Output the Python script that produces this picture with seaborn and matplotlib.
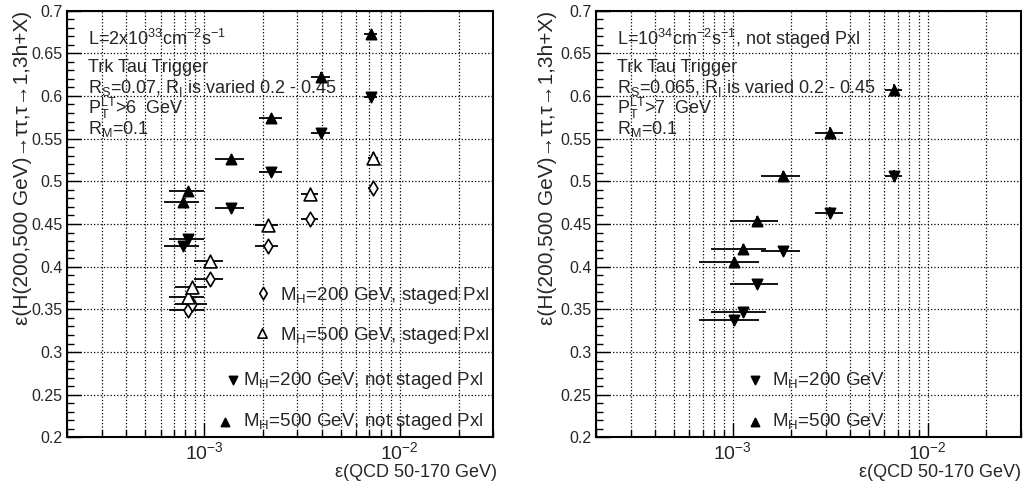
import math
import matplotlib
matplotlib.use('Agg')
import matplotlib.pyplot as plt
import matplotlib.ticker as mticker
import seaborn as sns
import pandas as pd

# left panel, L=2e33 : staged / not staged pixel
st_x = [8.3e-4, 8.7e-4, 1.07e-3, 2.11e-3, 3.48e-3, 7.3e-3]
st_xerr = [1.65e-4, 1.6e-4, 1.8e-4, 2.9e-4, 3.6e-4, 4.3e-4]
st_m200 = [0.349, 0.356, 0.386, 0.424, 0.456, 0.4925]
st_m200_err = [0.004, 0.004, 0.005, 0.007, 0.006, 0.008]
st_m500 = [0.365, 0.376, 0.407, 0.449, 0.485, 0.527]
st_m500_err = [0.005, 0.005, 0.005, 0.006, 0.006, 0.007]

ns_x = [7.84e-4, 8.3e-4, 1.37e-3, 2.2e-3, 3.96e-3, 7.15e-3]
ns_xerr = [1.6e-4, 1.65e-4, 2.3e-4, 3.0e-4, 4.3e-4, 5.5e-4]
ns_m200 = [0.424, 0.433, 0.469, 0.5105, 0.557, 0.599]
ns_m500 = [0.476, 0.489, 0.526, 0.574, 0.6225, 0.672]
ns_yerr = [0.004, 0.004, 0.004, 0.005, 0.005, 0.005]

# right panel, L=1e34, not staged
hl_x = [1.019e-3, 1.125e-3, 1.337e-3, 1.80e-3, 3.16e-3, 6.72e-3]
hl_xerr = [3.5e-4, 3.55e-4, 3.65e-4, 4.0e-4, 5.2e-4, 7.0e-4]
hl_m200 = [0.337, 0.3466, 0.3797, 0.4187, 0.4625, 0.5066]
hl_m500 = [0.4059, 0.4204, 0.4535, 0.5066, 0.557, 0.607]
hl_yerr = [0.006, 0.006, 0.006, 0.006, 0.007, 0.007]

sns.set_style('ticks')
plt.rcParams['font.family'] = ['Liberation Sans', 'DejaVu Sans']
plt.rcParams['mathtext.fontset'] = 'custom'
plt.rcParams['mathtext.rm'] = 'Liberation Sans'
plt.rcParams['mathtext.it'] = 'Liberation Sans:italic'
plt.rcParams['mathtext.bf'] = 'Liberation Sans:bold'
plt.rcParams['xtick.labelsize'] = 14
plt.rcParams['ytick.labelsize'] = 11.5

fig = plt.figure(figsize=(10.25, 4.98), dpi=100)
axL = fig.add_axes([0.0657, 0.1215, 0.4153, 0.8574])
axR = fig.add_axes([0.5819, 0.1215, 0.4140, 0.8574])

TXT = 13
LEG = 13.5


def series(ax, x, xerr, y, yerr, marker, size, filled):
    ax.errorbar(x, y, xerr=xerr, yerr=yerr, fmt='none', ecolor='k',
                elinewidth=1.3, capsize=0, zorder=3)
    df = pd.DataFrame({'x': x, 'y': y})
    sns.scatterplot(data=df, x='x', y='y', ax=ax, marker=marker, s=size,
                    color='k' if filled else 'white', edgecolor='k',
                    linewidth=1.2, zorder=4, legend=False)


def exp_label(v, pos):
    return r'$10^{%d}$' % round(math.log10(v))


def frame(ax, ylab_x):
    ax.set_xscale('log')
    ax.set_xlim(2e-4, 3e-2)
    ax.set_ylim(0.2, 0.7)
    ax.yaxis.set_major_locator(mticker.MultipleLocator(0.05))
    ax.yaxis.set_minor_locator(mticker.MultipleLocator(0.01))
    ax.yaxis.set_major_formatter(mticker.FormatStrFormatter('%g'))
    ax.xaxis.set_major_locator(mticker.LogLocator(base=10))
    ax.xaxis.set_minor_locator(mticker.LogLocator(base=10, subs=range(2, 10)))
    ax.xaxis.set_major_formatter(mticker.FuncFormatter(exp_label))
    ax.xaxis.set_minor_formatter(mticker.NullFormatter())
    ax.tick_params(which='both', direction='in', top=False, right=False,
                   color='k')
    ax.tick_params(axis='x', pad=3)
    ax.tick_params(which='major', length=10, width=1)
    ax.tick_params(which='minor', length=5, width=1)
    ax.grid(which='both', axis='x', ls=':', color='k', lw=0.9)
    ax.grid(which='major', axis='y', ls=':', color='k', lw=0.9)
    for s in ax.spines.values():
        s.set_linewidth(1.5)
        s.set_color('k')
    ax.set_xlabel('ε(QCD 50-170 GeV)', fontsize=TXT, loc='right')
    ax.set_ylabel('ε(H(200,500 GeV)→ττ,τ→1,3h+X)', fontsize=15, loc='top')
    ax.yaxis.set_label_coords(ylab_x, 1.0)


def legend_entry(ax, mx, my, tx, ty, label, marker, size, filled):
    ax.scatter([mx], [my], transform=ax.transAxes, marker=marker, s=size,
               c='k' if filled else 'white', edgecolors='k', linewidths=1.2,
               zorder=6, clip_on=False)
    ax.text(tx, ty, label, transform=ax.transAxes, fontsize=LEG,
            ha='left', va='baseline', zorder=6)


# left panel
frame(axL, -0.083)
axL.xaxis.set_label_coords(1.01, -0.062)
series(axL, st_x, st_xerr, st_m200, st_m200_err, 'd', 55, False)
series(axL, st_x, st_xerr, st_m500, st_m500_err, '^', 85, False)
series(axL, ns_x, ns_xerr, ns_m200, ns_yerr, 'v', 55, True)
series(axL, ns_x, ns_xerr, ns_m500, ns_yerr, '^', 55, True)

info_y = [0.919, 0.856, 0.8067, 0.7573, 0.7104]
left_info = [r'L=2x10$^{33}$cm$^{-2}$s$^{-1}$',
             'Trk Tau Trigger',
             r'R$_{\mathrm{S}}$=0.07, R$_{\mathrm{I}}$ is varied 0.2 - 0.45',
             r'P$_{\mathrm{T}}^{\mathrm{LT}}$>6  GeV',
             r'R$_{\mathrm{M}}$=0.1']
for t, y in zip(left_info, info_y):
    axL.text(0.049, y, t, transform=axL.transAxes, fontsize=TXT, va='baseline')

legend_entry(axL, 0.46, 0.338, 0.4998, 0.322,
             r'M$_{\mathrm{H}}$=200 GeV, staged Pxl', 'd', 40, False)
legend_entry(axL, 0.457, 0.245, 0.4998, 0.228,
             r'M$_{\mathrm{H}}$=500 GeV, staged Pxl', '^', 45, False)
legend_entry(axL, 0.389, 0.135, 0.413, 0.123,
             r'M$_{\mathrm{H}}$=200 GeV, not staged Pxl', 'v', 35, True)
legend_entry(axL, 0.371, 0.036, 0.413, 0.027,
             r'M$_{\mathrm{H}}$=500 GeV, not staged Pxl', '^', 35, True)

# right panel
frame(axR, -0.093)
axR.xaxis.set_label_coords(1.0, -0.062)
series(axR, hl_x, hl_xerr, hl_m200, hl_yerr, 'v', 55, True)
series(axR, hl_x, hl_xerr, hl_m500, hl_yerr, '^', 55, True)

right_info = [r'L=10$^{34}$cm$^{-2}$s$^{-1}$, not staged Pxl',
              'Trk Tau Trigger',
              r'R$_{\mathrm{S}}$=0.065, R$_{\mathrm{I}}$ is varied 0.2 - 0.45',
              r'P$_{\mathrm{T}}^{\mathrm{LT}}$>7  GeV',
              r'R$_{\mathrm{M}}$=0.1']
for t, y in zip(right_info, info_y):
    axR.text(0.0486, y, t, transform=axR.transAxes, fontsize=TXT, va='baseline')

legend_entry(axR, 0.374, 0.135, 0.4134, 0.123,
             r'M$_{\mathrm{H}}$=200 GeV', 'v', 35, True)
legend_entry(axR, 0.374, 0.036, 0.4134, 0.027,
             r'M$_{\mathrm{H}}$=500 GeV', '^', 35, True)

fig.savefig('out.png', dpi=100, facecolor='white')
